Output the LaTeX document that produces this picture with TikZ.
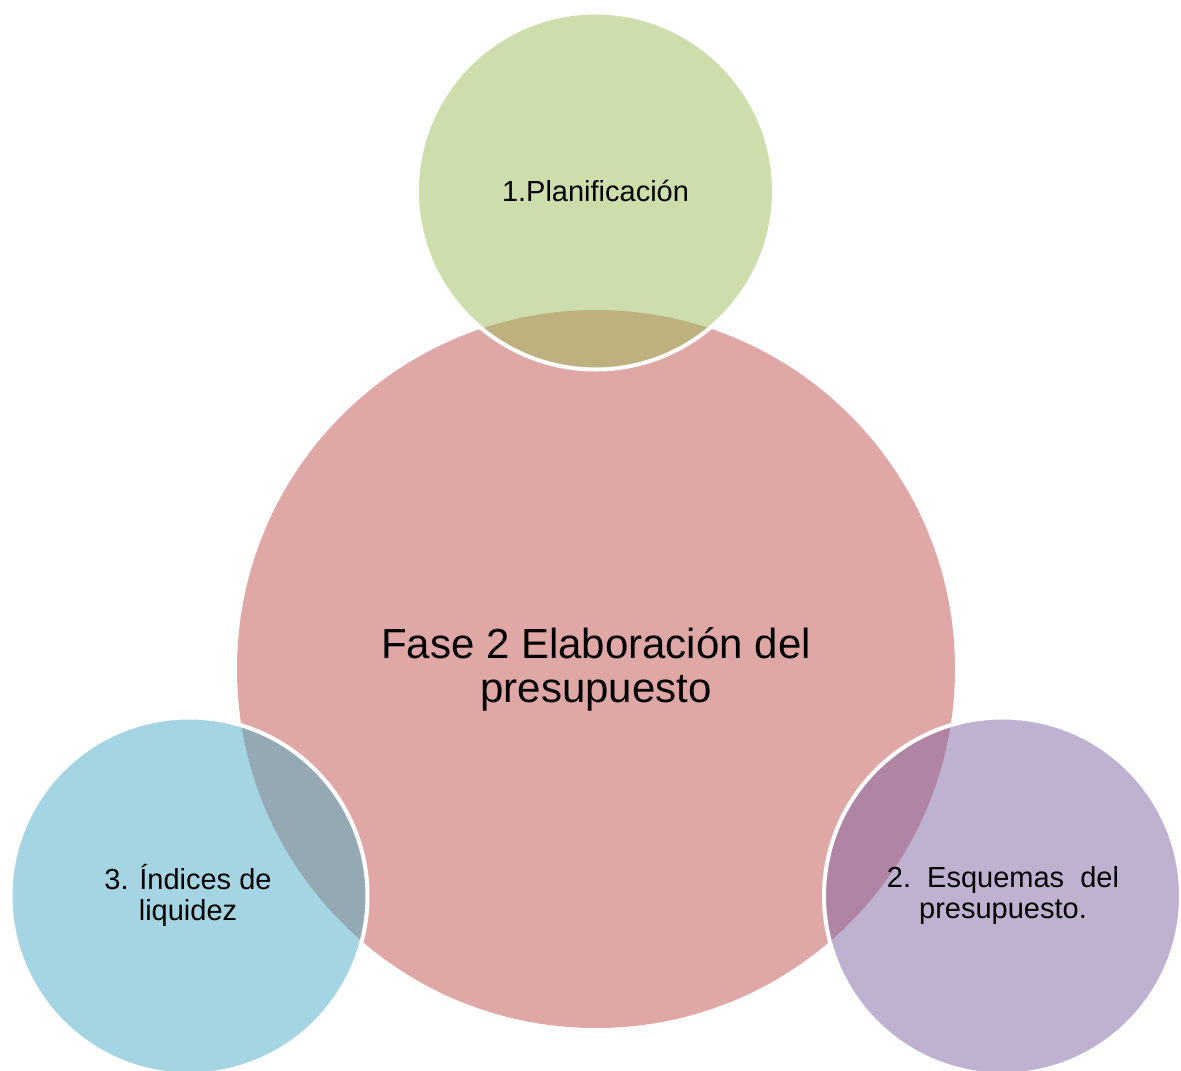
\documentclass[tikz,border=0pt]{standalone}
\usepackage{fontspec}
\setmainfont{Liberation Sans}
\definecolor{cred}{HTML}{C0504D}
\definecolor{cgreen}{HTML}{9BBB59}
\definecolor{cpurple}{HTML}{8064A2}
\definecolor{cblue}{HTML}{4BACC6}
\begin{document}
\begin{tikzpicture}[x=1pt,y=-1pt,
  bigcircle/.style={circle,inner sep=0pt,minimum size=718pt,fill=cred,fill opacity=0.5,text opacity=1,align=center,font=\fontsize{42}{44}\selectfont},
  satcircle/.style={circle,inner sep=0pt,minimum size=357pt,fill opacity=0.5,text opacity=1,draw=white,draw opacity=1,line width=4pt,align=center,font=\fontsize{29}{31}\selectfont}]
\useasboundingbox (0,0) rectangle (1181,1071);
\node[bigcircle] (center) at (596,669) {Fase 2 Elaboración del\\presupuesto};
\node[satcircle,fill=cgreen] (top) at (595.5,191) {};
\node[satcircle,fill=cblue] (left) at (189,896) {};
\node[satcircle,fill=cpurple] (right) at (1002.5,896) {};
\node[font=\fontsize{29}{31}\selectfont] (toplabel) at (top.center) {1.Planificación};
\node[font=\fontsize{29}{31}\selectfont,align=center] (leftlabel) at (188,895) {3. Índices de\\liquidez};
\node[font=\fontsize{29}{31}\selectfont,align=center] (rightlabel) at (1003,895) {2.\ \ Esquemas\ \ del\\presupuesto.};
\end{tikzpicture}
\end{document}
